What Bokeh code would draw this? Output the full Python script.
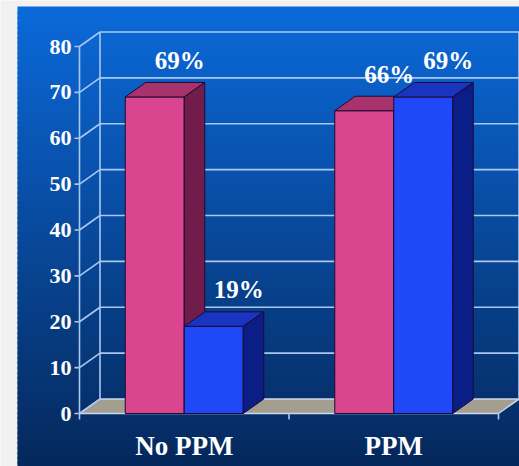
import numpy as np
from bokeh.plotting import figure
from bokeh.models import Range1d
from bokeh.embed import file_html
from bokeh.resources import INLINE
from bokeh.core.properties import value

# ---- data ----
categories = ["No PPM", "PPM"]
pink_values = [69, 66]
blue_values = [19, 69]
pink_labels = ["69%", "66%"]
blue_labels = ["19%", "69%"]
y_ticks = [0, 10, 20, 30, 40, 50, 60, 70, 80]

# ---- canvas geometry ----
W, H = 519, 466
FRONT_LEFT_PX, FRONT_RIGHT_PX = 79, 498     # front floor edge, px
ZERO_PX, TOP_PX = 413, 46                   # y pixel of 0 and of 80
Y_MAX = 80
PPU_X = (FRONT_RIGHT_PX - FRONT_LEFT_PX) / len(categories)
PPU_Y = (ZERO_PX - TOP_PX) / Y_MAX

x_start = -0.5 - FRONT_LEFT_PX / PPU_X
x_end = x_start + W / PPU_X
y_end = Y_MAX + TOP_PX / PPU_Y
y_start = y_end - H / PPU_Y


def px_x(px):
    return x_start + px / PPU_X


def px_y(px):
    return y_end - px / PPU_Y


# 3-D depth offset (wall and bars)
DX = 20.5 / PPU_X
DY = 14.5 / PPU_Y
BAR_W = 59 / PPU_X

p = figure(width=W, height=H, x_range=Range1d(x_start, x_end),
           y_range=Range1d(y_start, y_end), output_backend="svg",
           toolbar_location=None, min_border=0,
           x_axis_location=None, y_axis_location=None)
p.grid.visible = False
p.outline_line_color = None
p.background_fill_color = "#f1f1f1"
p.border_fill_color = "#f1f1f1"

# ---- slide background: vertical blue gradient ----
top_rgb = np.array([0x0b, 0x69, 0xd9])
bot_rgb = np.array([0x05, 0x28, 0x5c])
slide_left, slide_top = 17, 6
n = 92
edges = np.linspace(slide_top, H, n + 1)
cols = []
for i in range(n):
    t = i / (n - 1)
    c = np.round(top_rgb * (1 - t) + bot_rgb * t).astype(int)
    cols.append("#%02x%02x%02x" % tuple(c))
# each strip runs a few pixels under the next one so no seams show
bottoms = [px_y(min(e + 3, H + 2)) for e in edges[1:]]
p.quad(left=px_x(slide_left), right=x_end + 0.01,
       top=[px_y(e) for e in edges[:-1]], bottom=bottoms,
       fill_color=cols, line_color=None)

# ---- floor ----
xl, xr = -0.5, len(categories) - 0.5
p.patch([xl, xr, xr + DX, xl + DX], [0, 0, DY, DY],
        fill_color="#a39e90", line_color="#c9d8ee", line_width=1.5)

grid_col = "#a9c8f0"
# back wall horizontal gridlines
p.multi_line([[xl + DX, xr + DX] for v in y_ticks[1:]],
             [[v + DY, v + DY] for v in y_ticks[1:]],
             line_color=grid_col, line_width=1.6)
# side wall diagonals
p.multi_line([[xl, xl + DX] for v in y_ticks], [[v, v + DY] for v in y_ticks],
             line_color=grid_col, line_width=1.6)
# verticals: front axis, back-left and back-right edges
p.multi_line([[xl, xl], [xl + DX, xl + DX], [xr + DX, xr + DX]],
             [[0, Y_MAX], [DY, Y_MAX + DY], [DY, Y_MAX + DY]],
             line_color=grid_col, line_width=1.6)
# y tick marks
tick_len = 5 / PPU_X
p.multi_line([[xl - tick_len, xl] for v in y_ticks], [[v, v] for v in y_ticks],
             line_color=grid_col, line_width=1.6)
# x tick marks
tick_h = 6 / PPU_Y
xt = [xl + i for i in range(len(categories) + 1)]
p.multi_line([[x, x] for x in xt], [[0, -tick_h] for x in xt],
             line_color=grid_col, line_width=1.6)


# ---- 3-D bars ----
def bar3d(x0, v, front, top, side):
    x1 = x0 + BAR_W
    p.patch([x0, x1, x1, x0], [0, 0, v, v], fill_color=front,
            line_color="#1b0b33", line_width=1)
    p.patch([x0, x1, x1 + DX, x0 + DX], [v, v, v + DY, v + DY],
            fill_color=top, line_color="#1b0b33", line_width=1)
    p.patch([x1, x1 + DX, x1 + DX, x1], [0, DY, v + DY, v],
            fill_color=side, line_color="#1b0b33", line_width=1)


for i in range(len(categories)):
    bar3d(i - BAR_W, pink_values[i], "#d9468f", "#a8326c", "#721c4b")
    bar3d(i, blue_values[i], "#1f48f6", "#1a34c2", "#0b1d86")

# ---- text ----
font = value("Liberation Serif")
lbl_dx = 25 / PPU_X
lbl_dy = 8
p.text(x=[i - BAR_W / 2 + lbl_dx for i in range(len(categories))],
       y=[v + lbl_dy for v in pink_values], text=pink_labels,
       text_font=font, text_font_style="bold", text_font_size="25px",
       text_color="white", text_align="center", text_baseline="middle")
p.text(x=[i + BAR_W / 2 + lbl_dx for i in range(len(categories))],
       y=[v + lbl_dy for v in blue_values], text=blue_labels,
       text_font=font, text_font_style="bold", text_font_size="25px",
       text_color="white", text_align="center", text_baseline="middle")

p.text(x=[xl - 8 / PPU_X] * len(y_ticks), y=y_ticks,
       text=[str(v) for v in y_ticks], text_font=font,
       text_font_style="bold", text_font_size="22px", text_color="white",
       text_align="right", text_baseline="middle")

p.text(x=list(range(len(categories))), y=[-7] * len(categories),
       text=categories, text_font=font, text_font_style="bold",
       text_font_size="27px", text_color="white", text_align="center",
       text_baseline="middle")

open("out.html", "w").write(file_html(p, INLINE))
